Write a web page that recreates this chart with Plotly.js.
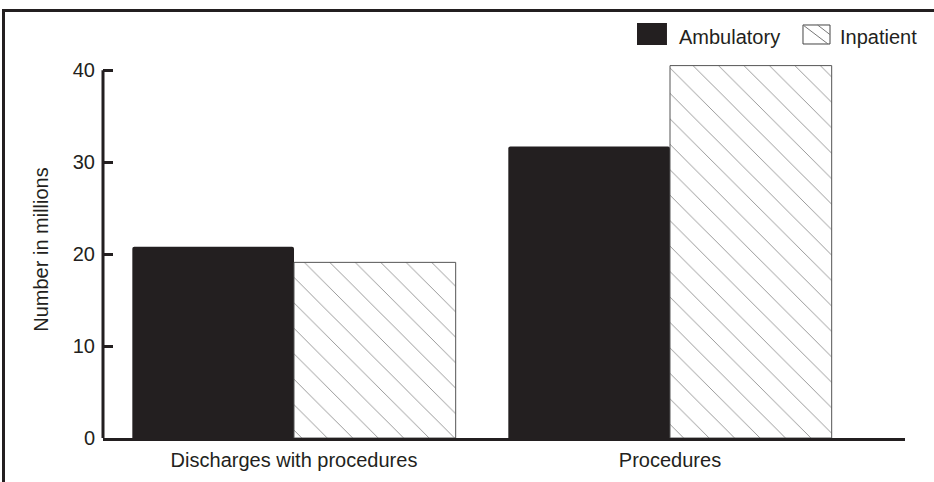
<!DOCTYPE html>
<html>
<head>
<meta charset="utf-8">
<script src="https://cdn.plot.ly/plotly-3.0.1.min.js"></script>
<style>
html,body{margin:0;padding:0;background:#fff;overflow:hidden;}
#wrap{position:relative;width:934px;height:482px;overflow:hidden;}
#chart{position:absolute;left:0;top:0;width:934px;height:482px;}
#frame{position:absolute;left:2px;top:9px;width:1000px;height:600px;border:3px solid #231f20;pointer-events:none;}
</style>
</head>
<body>
<div id="wrap">
<div id="chart"></div>
<div id="frame"></div>
</div>
<script>
const categories = ["Discharges with procedures", "Procedures"];
const seriesNames = ["Ambulatory", "Inpatient"];
const ambulatory = [20.8, 31.7];
const inpatient = [19.1, 40.5];
const yTicks = [0, 10, 20, 30, 40];

const ink = "#231f20";
const fam = "Liberation Sans, Arial, Helvetica, sans-serif";
const fsize = 20;
const font = {family: fam, size: fsize, color: ink};

const traces = [
  {
    type: "bar", name: seriesNames[0], x: categories, y: ambulatory,
    marker: {color: ink, line: {width: 0}, cornerradius: 2}
  },
  {
    type: "bar", name: seriesNames[1], x: categories, y: inpatient,
    marker: {
      color: "#ffffff",
      line: {width: 1, color: "#555555"},
      pattern: {shape: "\\", fgcolor: "#8f8f8f", bgcolor: "#ffffff", size: 18, solidity: 0.05}
    }
  }
];

// custom legend (swatches as layout shapes, labels as annotations)
const shapes = [
  {type: "line", xref: "paper", yref: "y", x0: 0, x1: 0, y0: 0, y1: 40,
   line: {color: ink, width: 3}},
  {type: "rect", xref: "paper", yref: "paper", x0: 0.6658, x1: 0.7032, y0: 1.0424, y1: 1.1008,
   fillcolor: ink, line: {width: 0}},
  {type: "rect", xref: "paper", yref: "paper", x0: 0.8728, x1: 0.9065, y0: 1.0451, y1: 1.0955,
   fillcolor: "#ffffff", line: {width: 1, color: "#444444"}},
  {type: "line", xref: "paper", yref: "paper", x0: 0.8728, x1: 0.9040, y0: 1.0955, y1: 1.0451,
   line: {width: 1, color: "#777777"}},
  {type: "line", xref: "paper", yref: "paper", x0: 0.8910, x1: 0.9065, y0: 1.0955, y1: 1.0700,
   line: {width: 1, color: "#777777"}}
];
const annotations = [
  {xref: "paper", yref: "paper", x: 0.7157, y: 1.0637, xanchor: "left", yanchor: "middle",
   text: seriesNames[0], showarrow: false, font: font},
  {xref: "paper", yref: "paper", x: 0.9165, y: 1.0637, xanchor: "left", yanchor: "middle",
   text: seriesNames[1], showarrow: false, font: font}
];

const layout = {
  width: 934, height: 482,
  margin: {l: 103, r: 29, t: 61, b: 44},
  paper_bgcolor: "#ffffff", plot_bgcolor: "#ffffff",
  font: font,
  barmode: "group", bargap: 0.14, bargroupgap: 0,
  showlegend: false,
  xaxis: {
    type: "category", range: [-0.508, 1.625],
    showline: true, linewidth: 3, linecolor: ink,
    ticks: "", showgrid: false, zeroline: false,
    ticklabelstandoff: 2,
    tickfont: font
  },
  yaxis: {
    range: [0, 41], tickvals: yTicks, ticktext: yTicks.map(String),
    showline: false, showgrid: false, zeroline: false,
    ticks: "inside", ticklen: 10, tickwidth: 3, tickcolor: ink,
    ticklabelstandoff: 7,
    tickfont: font,
    title: {text: "Number in millions", font: font, standoff: 18}
  },
  shapes: shapes,
  annotations: annotations
};

Plotly.newPlot("chart", traces, layout, {displayModeBar: false, staticPlot: true});
</script>
</body>
</html>
